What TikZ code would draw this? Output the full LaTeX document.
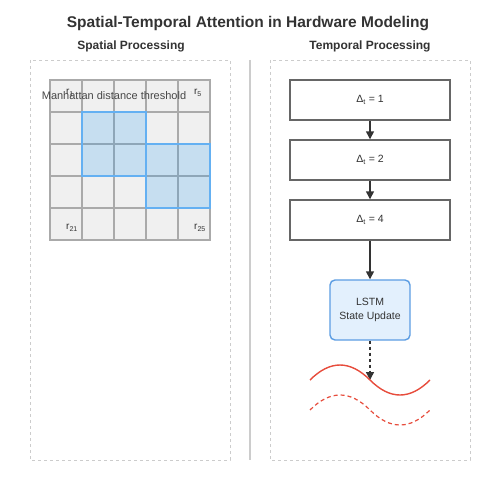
\documentclass[tikz,border=0pt]{standalone}
\usepackage{fontspec}
\setmainfont{Liberation Sans}
\usetikzlibrary{arrows.meta,positioning}

\definecolor{textgray}{HTML}{333333}
\definecolor{panelgray}{HTML}{CCCCCC}
\definecolor{cellgray}{HTML}{F0F0F0}
\definecolor{cellline}{HTML}{AAAAAA}
\definecolor{attnblue}{HTML}{2196F3}
\definecolor{attnline}{HTML}{64B0F2}
\definecolor{lstmfill}{HTML}{E3F0FD}
\definecolor{lstmline}{HTML}{5C9DE3}
\definecolor{boxline}{HTML}{666666}
\definecolor{wavered}{HTML}{E74C3C}

\tikzset{
	panel/.style = {draw=panelgray, dashed, line width=0.8pt},
	corner/.style = {font=\fontsize{10}{11}\selectfont, text=textgray, inner sep=0pt},
	stepbox/.style = {draw=boxline, line width=1.4pt, minimum width=160pt, minimum height=40pt,
		inner sep=0pt, font=\fontsize{10.5}{12}\selectfont, text=textgray},
	lstmbox/.style = {draw=lstmline, fill=lstmfill, line width=1.4pt, rounded corners=5pt,
		minimum width=80pt, minimum height=60pt, inner sep=0pt, align=center,
		font=\fontsize{10.5}{14.5}\selectfont, text=textgray},
	flow/.style = {draw=textgray, line width=1.4pt, -{Triangle[length=8pt,width=8pt]}},
}

\begin{document}
\begin{tikzpicture}[x=1pt, y=-1pt]
	\useasboundingbox [fill=white] ( 0, 0 ) rectangle ( 500, 500 );

	% заголовки
	\node [font=\bfseries\fontsize{15.5}{18}\selectfont, text=textgray] (title) at ( 248, 24 ) {Spatial-Temporal Attention in Hardware Modeling};
	\node [font=\bfseries\fontsize{12}{14}\selectfont, text=textgray] (spatialhead) at ( 131, 46 ) {Spatial Processing};
	\node [font=\bfseries\fontsize{12}{14}\selectfont, text=textgray] (temporalhead) at ( 370, 46 ) {Temporal Processing};

	% панели
	\draw [panel] ( 30, 60 ) rectangle ( 230, 460 );
	\draw [panel] ( 270, 60 ) rectangle ( 470, 460 );
	\draw [draw=panelgray, line width=1.4pt] ( 250, 60 ) -- ( 250, 460 );

	% решетка
	\draw [fill=cellgray, draw=cellline, line width=1.1pt] ( 50, 80 ) rectangle ( 210, 240 );
	\draw [draw=cellline, line width=1.1pt]
		( 82, 80 ) -- ( 82, 240 ) ( 114, 80 ) -- ( 114, 240 ) ( 146, 80 ) -- ( 146, 240 ) ( 178, 80 ) -- ( 178, 240 )
		( 50, 112 ) -- ( 210, 112 ) ( 50, 144 ) -- ( 210, 144 ) ( 50, 176 ) -- ( 210, 176 ) ( 50, 208 ) -- ( 210, 208 );

	% области внимания
	\draw [fill=attnblue, fill opacity=0.2, draw=attnline, line width=1.4pt] ( 82, 112 ) rectangle ( 146, 176 );
	\draw [fill=attnblue, fill opacity=0.2, draw=attnline, line width=1.4pt] ( 146, 144 ) rectangle ( 210, 208 );

	\node [corner] (rtopleft) at ( 70, 93 ) {r\textsubscript{1}};
	\node [corner] (rtopright) at ( 198, 93 ) {r\textsubscript{5}};
	\node [corner] (rbotleft) at ( 72, 228 ) {r\textsubscript{21}};
	\node [corner] (rbotright) at ( 200, 228 ) {r\textsubscript{25}};
	\node [font=\fontsize{11}{13}\selectfont, text=textgray!90, inner sep=0pt] (threshold) at ( 114, 96 ) {Manhattan distance threshold};

	% временные шаги
	\node [stepbox] (step1) at ( 370, 100 ) {Δ\textsubscript{t} = 1};
	\node [stepbox] (step2) at ( 370, 160 ) {Δ\textsubscript{t} = 2};
	\node [stepbox] (step4) at ( 370, 220 ) {Δ\textsubscript{t} = 4};
	\node [lstmbox] (lstm) at ( 370, 310 ) {LSTM\\State Update};
	\coordinate (wavehit) at ( 370, 380 );

	\draw [flow] (step1) -- (step2);
	\draw [flow] (step2) -- (step4);
	\draw [flow] (step4) -- (lstm);
	\draw [flow, dashed] (lstm) -- (wavehit);

	% волны
	\draw [wavered, line width=1.4pt] ( 310, 380 ) .. controls ( 330, 360 ) and ( 350, 360 ) .. ( 370, 380 ) .. controls ( 390, 400 ) and ( 410, 400 ) .. ( 430, 380 );
	\draw [wavered, line width=1.2pt, dash pattern=on 4pt off 3pt] ( 310, 410 ) .. controls ( 330, 390 ) and ( 350, 390 ) .. ( 370, 410 ) .. controls ( 390, 430 ) and ( 410, 430 ) .. ( 430, 410 );
\end{tikzpicture}
\end{document}
